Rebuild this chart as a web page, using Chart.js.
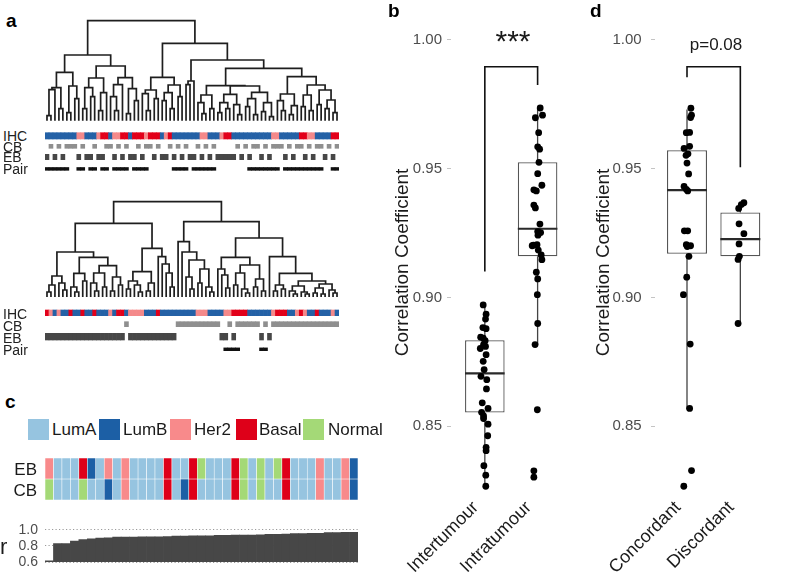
<!DOCTYPE html>
<html><head><meta charset="utf-8">
<script src="https://cdn.jsdelivr.net/npm/chart.js@4.4.1/dist/chart.umd.min.js"></script>
<style>
html,body{margin:0;padding:0;background:#fff;}
#fig{position:relative;width:787px;height:582px;overflow:hidden;background:#fff;font-family:"Liberation Sans",Arial,Helvetica,sans-serif;}
#fig canvas{position:absolute;}
.t{position:absolute;white-space:nowrap;line-height:1;color:#1a1a1a;}
.pl{font-weight:bold;font-size:19px;color:#000;}
.rl{font-size:14px;color:#222;}
.lg{font-size:17px;}
.sw{position:absolute;width:21px;height:21px;}
</style></head><body>
<div id="fig">
<canvas id="dTop" width="294" height="160" style="left:45px;top:16px"></canvas>
<canvas id="dBot" width="294" height="160" style="left:45px;top:196px"></canvas>
<canvas id="heat" width="313" height="42" style="left:45px;top:458px"></canvas>
<canvas id="rbar" width="358" height="50" style="left:0px;top:520px"></canvas>
<canvas id="pb" width="200" height="582" style="left:370px;top:0px"></canvas>
<canvas id="pd" width="217" height="582" style="left:570px;top:0px"></canvas>

<div class="t pl" style="left:6px;top:11px">a</div>
<div class="t pl" style="left:388px;top:1px">b</div>
<div class="t pl" style="left:5px;top:392px">c</div>
<div class="t pl" style="left:590px;top:1px">d</div>

<div class="t rl" style="left:3px;top:128.7px">IHC</div>
<div class="t rl" style="left:3px;top:139.7px">CB</div>
<div class="t rl" style="left:3px;top:150.2px">EB</div>
<div class="t rl" style="left:3px;top:162.2px">Pair</div>
<div class="t rl" style="left:3px;top:307.2px">IHC</div>
<div class="t rl" style="left:3px;top:319.2px">CB</div>
<div class="t rl" style="left:3px;top:330.9px">EB</div>
<div class="t rl" style="left:3px;top:343.2px">Pair</div>

<div id="legend"></div>

<div class="t lg" style="left:0px;width:37px;text-align:right;top:461.2px">EB</div>
<div class="t lg" style="left:0px;width:37px;text-align:right;top:482.2px">CB</div>
<div class="t" style="left:0px;top:536px;font-size:22px">r</div>

<div class="t" style="left:463px;width:100px;text-align:center;top:26px;font-size:30px">***</div>
<div class="t" style="left:666px;width:100px;text-align:center;top:35.5px;font-size:17px">p=0.08</div>
</div>
<script>
// ================= DATA =================
// Panel a: dendrograms, node = [mergeHeight, left, right], 0 = leaf
const treeTop = [100,
  [65.7,
    [48.4,
      [33, [31, [5,0,0], 0], [12,0,0]],
      [34.7, [8,0,0], [22,0,0]]],
    [54.7,
      [42.7, [33, [12,0,0], [24,0,0]], [28, [10,0,0], 0]],
      [43, [36, [24,0,[10,0,0]], 0], [32, [7,0,0], [20,0,0]]]]],
  [77.4,
    [43.4,
      [30.7, [27,0,[10,0,0]], [22,0,0]],
      [35.7, [28,[20,0,0],[12,0,0]], [24,0,0]]],
    [60.7,
      [39.7, [36,0,0], 0],
      [52.4,
        [35,
          [25.7, [18,0,[7,0,0]], [12,0,0]],
          [34.7,
            [26.4, [18,[8,0,0],[12,0,0]], [16,0,[6,0,0]]],
            [28.4, [22,[14,0,0],[6,0,0]], [18,[9,0,0],[4,0,0]]]]],
        [44,
          [26.7, [20,0,[10,0,0]], [15,[6,0,0],0]],
          [35.7,
            [25.7, [14,0,0], [10,0,0]],
            [30.7, [16,0,0], [20.7,[12,0,0],[8,0,0]]]]]]]]];

const treeBottom = [95.3,
  [73.7,
    [45,
      [21, [12,[5,0,0],0], [14,0,[7,0,0]]],
      [39.7,
        [23.7, [10,0,[5,0,0]], [16,0,0]],
        [31.3, [24,[14,0,[6,0,0]],[10,0,0]], [20,[6,0,0],[12,0,0]]]]],
    [48.7,
      [25.3, [16,[8,0,0],[12,0,[5,0,0]]], [14,[6,0,0],0]],
      [40.3, 0, [33, 0, [24, 0, [10,0,0]]]]]],
  [75.3,
    [55.3, 0, [45, 0, [37, [20,0,[8,0,0]], [28,[14,0,0],[10,0,[5,0,0]]]]]],
    [59,
      [39.7, [28,0,[22,0,[9,0,0]]], [32,[24,[12,0,0],[8,0,[4,0,0]]],[18,[10,0,0],[6,0,0]]]],
      [40.3, 0,
        [23.7,
          [12,[6,0,0],[8,0,0]],
          [16, [11,[6,0,[3,0,0]],[5,0,[3,0,0]]], [13,[9,[4,0,0],[3,0,0]],[7,0,[4,0,0]]]]]]]]];

// IHC per leaf: B = blue, P = pink, R = red
const ihcTop    = "BBBBBBBBPPBBBPRRBPPRRBRRRPRRRBPRBBBBBBBPPBBBPRRBBBBBBBBBBPPBBBBBRRPPBBBBRR".split("");
const ihcBottom = "RPBPBBRBBRBBRBBBPBRRBPPPPBBBRBBBBBBBBBPPPBBBBPPRRRRBBBBBBPRRRBBPRPBBRBBBPB".split("");
// sample type per leaf: C = core biopsy, E = excision biopsy
const typeTop    = "ECECECCCECEECEECCECECEECECCECEECECECEECECECEEEEECECECCECECCCECECCECECCECEC".split("");
const typeBottom = "EEEEEEEEEEEEEEEEEEEECEEEEEEEEEEEECCCCCCCCCCCEECECCCCCCECECCCCCCCCCCCCCCCCC".split("");
// paired samples clustering together
const pairTop    = "11111100110110110111101111000000111101111110000000011111111011111111110011".split("");
const pairBottom = "00000000000000000000000000000000000000000000011110000011000000000000000000".split("");

// Panel c
const subtypes = ["LumA","LumB","Her2","Basal","Normal"];
const ebSubtype = ["Her2","LumA","LumA","LumA","Basal","LumB","LumA","Her2","LumA","Her2","LumA","LumA","LumA","LumA","Basal","LumA","LumA","Basal","Normal","LumA","LumA","LumA","Basal","Normal","LumA","Normal","LumA","Normal","Basal","LumA","LumA","LumA","Her2","LumA","LumA","Her2","LumB"];
const cbSubtype = ["Normal","LumA","LumA","LumA","Normal","LumA","LumA","LumB","LumA","Her2","LumA","LumA","LumA","LumA","Basal","LumA","LumB","Basal","LumA","LumA","LumA","LumA","Basal","Normal","LumA","Normal","LumA","LumA","Basal","LumA","LumA","LumA","Her2","LumA","LumA","Her2","LumB"];
const rValues = [0.615,0.827,0.828,0.860,0.877,0.886,0.897,0.899,0.908,0.909,0.910,0.911,0.912,0.913,0.915,0.921,0.922,0.923,0.924,0.925,0.930,0.931,0.932,0.933,0.934,0.935,0.943,0.944,0.946,0.952,0.953,0.954,0.955,0.964,0.965,0.966,0.967];
const rTicks = [0.6, 0.8, 1.0];

// Panels b and d: shared y ticks
const corrTicks = [0.85, 0.90, 0.95, 1.00];

// Panel b
const catsB = ["Intertumour","Intratumour"];
const interVals = [0.8971,0.8935,0.8916,0.8883,0.8879,0.8846,0.8842,0.8832,0.8817,0.881,0.8802,0.8778,0.8752,0.872,0.8694,0.8681,0.8645,0.8591,0.8569,0.8554,0.854,0.853,0.8508,0.8463,0.8418,0.8405,0.8347,0.831,0.8267];
const interJit  = [-0.031,0.024,0.013,-0.037,0.024,-0.079,-0.031,0.006,-0.024,0.013,-0.086,0.024,-0.031,-0.013,-0.073,0.037,0.031,-0.049,0.061,-0.061,-0.024,-0.024,0.061,0.055,0.024,0.024,-0.018,0.018,0.018];
const intraVals = [0.9736,0.9708,0.9698,0.964,0.9585,0.9576,0.9525,0.9481,0.9436,0.9418,0.9414,0.9359,0.9348,0.9285,0.9256,0.9252,0.9242,0.9205,0.9203,0.9201,0.9184,0.9165,0.9147,0.9098,0.9072,0.9011,0.8899,0.8817,0.8564,0.8327,0.8302];
const intraJit  = [0.049,0.093,-0.042,0.02,0.002,0.038,0.026,0.002,0.081,-0.071,-0.024,-0.071,-0.042,0.044,0.002,0.057,0.007,-0.011,-0.079,-0.103,0.013,0.068,0.081,-0.024,0.002,-0.005,0.002,-0.048,-0.005,-0.071,-0.071];
const boxB = [
  {min:0.8267, q1:0.8553, med:0.8705, q3:0.8834, max:0.8971},
  {min:0.8817, q1:0.916,  med:0.9267, q3:0.9525, max:0.9736}];
const bracketB = {left:0.9101, right:0.9825, top:0.9896};

// Panel d
const catsD = ["Concordant","Discordant"];
const concVals = [0.9735,0.9708,0.9699,0.9641,0.964,0.9587,0.9579,0.9558,0.9552,0.9522,0.948,0.9431,0.942,0.9414,0.9259,0.9259,0.9205,0.9201,0.9198,0.916,0.9079,0.9011,0.8819,0.8569,0.8328,0.8267];
const concJit  = [0.073,0.085,0.067,0.049,-0.013,0.049,-0.055,0.018,-0.018,0,0.031,-0.055,-0.013,0.013,-0.049,0.013,-0.013,0.067,0.005,0.036,-0.005,-0.067,0.06,0.049,0.085,-0.06];
const discVals = [0.9368,0.9361,0.9346,0.9286,0.9248,0.9208,0.916,0.9148,0.8899];
const discJit  = [0.067,0.018,-0.031,-0.024,0.067,-0.024,-0.018,-0.042,-0.042];
const boxD = [
  {min:0.8566, q1:0.917, med:0.9417, q3:0.9572, max:0.973},
  {min:0.8899, q1:0.916, med:0.9227, q3:0.933,  max:0.9368}];
const bracketD = {left:0.9855, right:0.9506, top:0.9896};

// ================= STYLE =================
const SUB_COL = {LumA:"#96c4e0", LumB:"#1c5fa5", Her2:"#f88a8b", Basal:"#de0019", Normal:"#a4d977"};
const IHC_COL = {B:"#2461a6", P:"#f4898a", R:"#e2001a"};
Chart.defaults.font.family = '"Liberation Sans", Arial, Helvetica, sans-serif';
const el = id => document.getElementById(id);
const base = () => ({responsive:false, animation:false, devicePixelRatio:1, events:[],
  plugins:{legend:{display:false}, tooltip:{enabled:false}}});

// legend (panel c)
(function(){
  const lefts = [27.7, 99, 170, 236, 303], tl = [52, 123, 194, 259, 328];
  const L = el("legend");
  subtypes.forEach((s,i)=>{
    const b = document.createElement("div"); b.className="sw";
    b.style.left = lefts[i]+"px"; b.style.top = "418.5px"; b.style.background = SUB_COL[s]; L.appendChild(b);
    const t = document.createElement("div"); t.className="t lg"; t.textContent = s;
    t.style.left = tl[i]+"px"; t.style.top = "420.7px"; L.appendChild(t);
  });
})();

// ================= DENDROGRAMS =================
function layoutTree(node, counter, segs){
  if (node === 0) { return {x: counter.i++, h: 0}; }
  const [h, a, b] = node;
  const A = layoutTree(a, counter, segs), B = layoutTree(b, counter, segs);
  segs.push({x:A.x,y:A.h},{x:A.x,y:h},{x:B.x,y:h},{x:B.x,y:B.h},{x:B.x,y:null});
  return {x:(A.x+B.x)/2, h:h};
}
function dendro(id, tree, ihc, types, pairs, g){
  const segs = []; const c = {i:0}; layoutTree(tree, c, segs);
  const n = ihc.length;
  new Chart(el(id), {type:"bar", data:{datasets:[
    {type:"line", data:segs, borderColor:"#1e1e1e", borderWidth:1.7, pointRadius:0, tension:0, spanGaps:false, order:0},
    {data: ihc.map((k,i)=>({x:i, y:g.ihc})), backgroundColor: ihc.map(k=>IHC_COL[k]), order:1},
    {data: types.map((t,i)=>({x:i, y: t==="C" ? g.cb : null})), backgroundColor:"#8f8f8f", order:1},
    {data: types.map((t,i)=>({x:i, y: t==="E" ? g.eb : null})), backgroundColor:"#474747", order:1},
    {data: pairs.map((p,i)=>({x:i, y: p==="1" ? g.pair : null})), backgroundColor:"#111", order:1}
  ]}, options: Object.assign(base(), {
    layout:{padding:0},
    datasets:{bar:{grouped:false, barPercentage:1, categoryPercentage:1, borderWidth:0}},
    scales:{
      x:{type:"linear", display:false, offset:false, min:-0.5, max:n-0.5},
      y:{type:"linear", display:false, min:g.ymin, max:g.ymax}
    }})});
}
dendro("dTop", treeTop, ihcTop, typeTop, pairTop,
  {ymin:-55.3, ymax:104.7, ihc:[-18.3,-12], cb:[-27.6,-23.6], eb:[-39,-33.6], pair:[-49.6,-46.8]});
dendro("dBot", treeBottom, ihcBottom, typeBottom, pairBottom,
  {ymin:-59, ymax:101, ihc:[-18.7,-13], cb:[-29.7,-24.7], eb:[-43,-36.3], pair:[-53.7,-50.9]});

// ================= PANEL C =================
new Chart(el("heat"), {type:"bar", data:{labels: ebSubtype.map((_,i)=>String(i+1)), datasets:[
  {data: ebSubtype.map(()=>[1,2]), backgroundColor: ebSubtype.map(s=>SUB_COL[s])},
  {data: cbSubtype.map(()=>[0,1]), backgroundColor: cbSubtype.map(s=>SUB_COL[s])}
]}, options: Object.assign(base(), {layout:{padding:0},
  datasets:{bar:{grouped:false, barPercentage:1, categoryPercentage:1, borderWidth:0.6, borderColor:"rgba(255,255,255,0.7)", borderSkipped:false}},
  scales:{x:{display:false}, y:{display:false, min:0, max:2}}})});

new Chart(el("rbar"), {type:"bar", data:{labels: rValues.map((_,i)=>String(i+1)), datasets:[
  {data: rValues, backgroundColor:"#474747", barPercentage:1, categoryPercentage:1, borderWidth:0}
]}, options: Object.assign(base(), {layout:{padding:{top:9.7, bottom:8, left:0, right:0}},
  scales:{x:{display:false},
    y:{min:rTicks[0], max:rTicks[rTicks.length-1],
      afterBuildTicks:s=>{s.ticks = rTicks.map(v=>({value:v}));},
      afterFit:s=>{s.width=45; s.paddingTop=0; s.paddingBottom=0;},
      grid:{drawTicks:false, color:"#9a9a9a", lineWidth:1},
      border:{display:false, dash:[1.2,2.3]},
      ticks:{autoSkip:false, padding:7, font:{size:14}, color:"#4d4d4d", callback:v=>Number(v).toFixed(1)}}}})});

// ================= PANELS B & D =================
function boxPanel(id, cats, stats, vals, jits, br, g){
  const pts = [];
  vals.forEach((arr,k)=>arr.forEach((v,j)=>pts.push({x:k+1+jits[k][j], y:v})));
  const med = [], wh = [];
  stats.forEach((s,k)=>{ const x=k+1;
    med.push({x:x-0.375,y:s.med},{x:x+0.375,y:s.med},{x:x,y:null});
    wh.push({x:x,y:s.q3},{x:x,y:s.max},{x:x,y:null},{x:x,y:s.q1},{x:x,y:s.min},{x:x,y:null}); });
  const brk = [{x:1,y:br.left},{x:1,y:br.top},{x:2,y:br.top},{x:2,y:br.right}];
  new Chart(el(id), {type:"bar", data:{datasets:[
    {type:"scatter", data:pts, pointRadius:3.4, backgroundColor:"#000", borderColor:"#000", borderWidth:0, order:0},
    {type:"line", data:med, borderColor:"#2a2a2a", borderWidth:2.2, pointRadius:0, spanGaps:false, order:1},
    {type:"bar", data: stats.map((s,k)=>({x:k+1, y:[s.q1,s.q3]})), backgroundColor:"#fff", borderColor:"#555",
      borderWidth:1.3, borderSkipped:false, barPercentage:0.75, categoryPercentage:1, order:2},
    {type:"line", data:wh, borderColor:"#444", borderWidth:1.3, pointRadius:0, spanGaps:false, order:3},
    {type:"line", data:brk, borderColor:"#111", borderWidth:1.6, pointRadius:0, order:4}
  ]}, options: Object.assign(base(), {
    layout:{padding:{top:g.top, left:0, right:0, bottom:0}},
    scales:{
      x:{type:"linear", offset:false, bounds:"data", min:g.xmin, max:g.xmax,
        grid:{display:false, drawTicks:false}, border:{display:false},
        afterBuildTicks:s=>{s.ticks=[{value:1},{value:2}];},
        afterFit:s=>{s.height=g.xh; s.paddingLeft=0; s.paddingRight=0;},
        ticks:{autoSkip:false, minRotation:45, maxRotation:45, padding:g.xpad, labelOffset:-9, font:{size:18}, color:"#1a1a1a",
          callback:v=>cats[Math.round(v)-1]}},
      y:{type:"linear", bounds:"data", min:g.ymin, max:g.ymax,
        afterBuildTicks:s=>{s.ticks = corrTicks.map(v=>({value:v}));},
        grid:{drawOnChartArea:false, drawTicks:true, tickLength:4, color:"#c4c4c4"}, border:{display:false},
        afterFit:s=>{s.width=g.yw; s.paddingTop=0; s.paddingBottom=0;},
        ticks:{autoSkip:false, padding:g.ypad, font:{size:15}, color:"#4d4d4d", callback:v=>Number(v).toFixed(2)},
        title:{display:true, text:"Correlation Coefficient", font:{size:19}, color:"#1a1a1a", padding:{top:g.tpad, bottom:0}}}
    }})});
}
const Y_MIN = 0.82252, Y_MAX = 1.00466;
boxPanel("pb", catsB, boxB, [interVals, intraVals], [interJit, intraJit], bracketB,
  {top:28, xh:85, yw:81, ypad:5, tpad:21.5, xpad:0, xmin:0.359, xmax:2.538, ymin:Y_MIN, ymax:Y_MAX});
boxPanel("pd", catsD, boxD, [concVals, discVals], [concJit, discJit], bracketD,
  {top:28, xh:85, yw:85, ypad:9.3, tpad:22.5, xpad:0, xmin:0.4, xmax:2.8, ymin:Y_MIN, ymax:Y_MAX});
</script>
</body></html>
